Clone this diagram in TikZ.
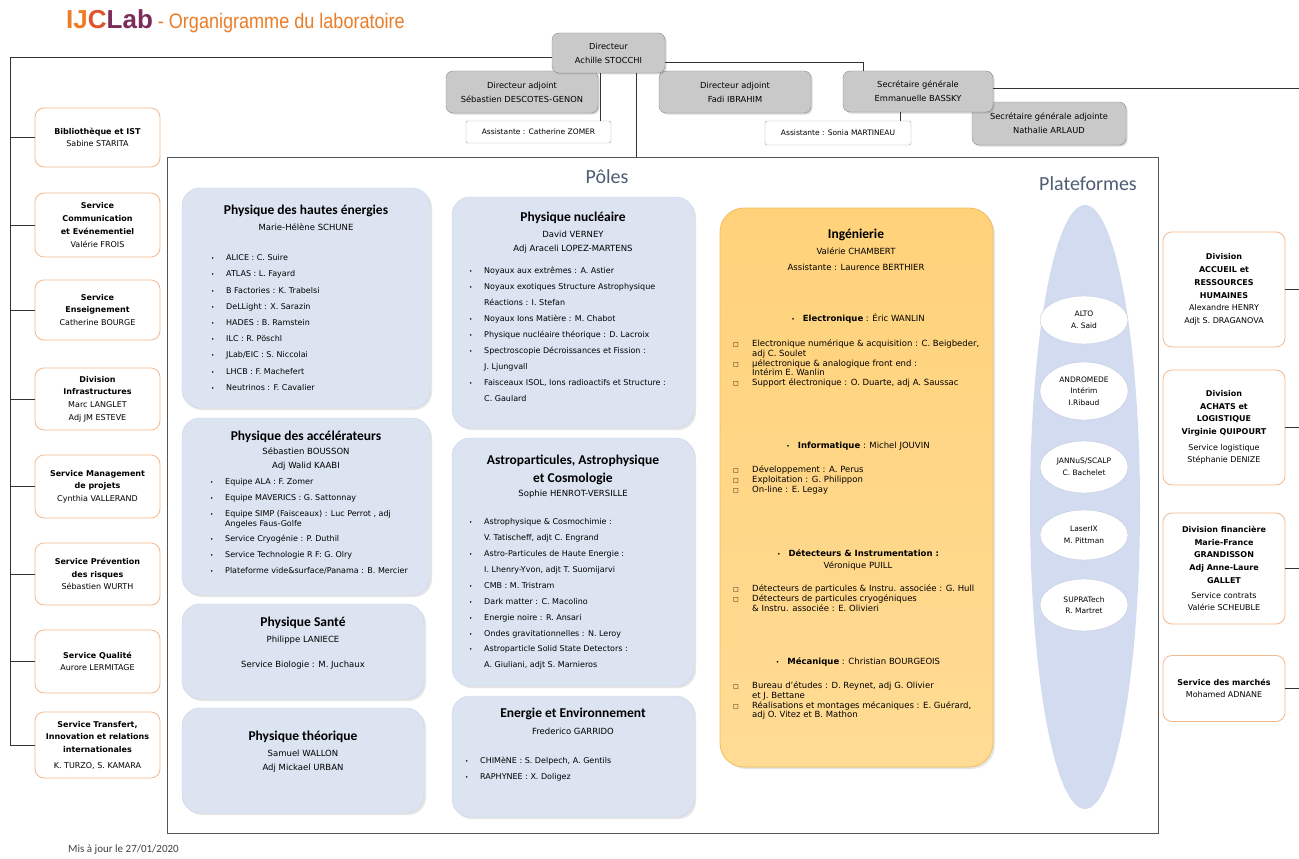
\documentclass[tikz,border=0pt]{standalone}
\usepackage{fontspec}
\setmainfont{DejaVu Sans}
\newfontfamily\calib{Carlito}
\newfontfamily\arial{Liberation Sans}
\usepackage{graphicx}
\usetikzlibrary{shapes.geometric,shadows}

\definecolor{greybox}{HTML}{C9C9C9}
\definecolor{greyedge}{HTML}{8A8A8A}
\definecolor{servedge}{HTML}{F4B98A}
\definecolor{poleblue}{HTML}{DCE4F2}
\definecolor{poleedge}{HTML}{CBD5E8}
\definecolor{platblue}{HTML}{D2DBEF}
\definecolor{platedge}{HTML}{BFC9DE}
\definecolor{ingtop}{HTML}{FFD27A}
\definecolor{ingbot}{HTML}{FFDB94}
\definecolor{ingedge}{HTML}{F1BE5C}
\definecolor{titleblue}{HTML}{4D5D73}
\definecolor{ijcorange}{HTML}{EC7D26}
\definecolor{ijcred}{HTML}{E0532C}
\definecolor{ijcpurple}{HTML}{7C2C58}
\definecolor{framec}{HTML}{555555}

\newcommand{\bl}{\makebox[15pt][l]{\scalebox{.7}{\textbullet}}}
\newcommand{\cont}{\hspace*{15pt}}
\newcommand{\sqb}{\makebox[19pt][l]{\fontsize{6}{6}\selectfont □}}
\newcommand{\scont}{\hspace*{19pt}}

\begin{document}
\begin{tikzpicture}[x=1pt,y=-1pt,
  conn/.style={draw=black!80,line width=.6pt},
  chef/.style={draw=greyedge,fill=greybox,rounded corners=7pt,align=center,font=\fontsize{8.3}{14}\selectfont,drop shadow={shadow xshift=1.5pt,shadow yshift=-1.5pt,opacity=.3}},
  assist/.style={draw=greyedge!80,fill=white,rounded corners=2pt,minimum height=22pt,font=\fontsize{7.5}{9}\selectfont},
  serv/.style={draw=servedge,line width=.8pt,fill=white,rounded corners=9pt,align=center,minimum width=125pt,font=\fontsize{8}{12.7}\selectfont},
  pole/.style={draw=poleedge,fill=poleblue,rounded corners=18pt,drop shadow={shadow xshift=2pt,shadow yshift=-2pt,opacity=.2}},
  ptitle/.style={inner sep=0pt,align=center,font=\calib\bfseries\fontsize{13.5}{18}\selectfont},
  pname/.style={inner sep=0pt,align=center,font=\fontsize{8.5}{14}\selectfont},
  lst/.style={anchor=north west,inner sep=0pt,align=left,font=\fontsize{8}{16.2}\selectfont},
  ilst/.style={anchor=north west,inner sep=0pt,align=left,font=\fontsize{8.5}{9.8}\selectfont},
  ihead/.style={inner sep=0pt,align=center,font=\fontsize{8.5}{12}\selectfont},
  plat/.style={ellipse,draw=platedge,fill=white,minimum width=88pt,inner sep=1pt,align=center,font=\fontsize{7.5}{11.5}\selectfont},
  big/.style={inner sep=0pt,font=\calib\fontsize{20}{20}\selectfont,text=titleblue}]

\path[fill=white] (0,0) rectangle (1299,859);
\useasboundingbox (0,0) rectangle (1299,859);

\node[anchor=base west,inner sep=0pt] (titre) at (66,29) {{\arial\bfseries\fontsize{26}{26}\selectfont\textcolor{ijcorange}{IJ}\textcolor{ijcred}{C}\textcolor{ijcpurple}{Lab}}\hspace{5pt}\textcolor{ijcorange}{\scalebox{0.86}[1]{\arial\fontsize{21}{21}\selectfont - Organigramme du laboratoire}}};

\node[draw=framec,line width=.9pt,minimum width=991pt,minimum height=676pt] (poles) at (662.5,495) {};
\node[big] (polest) at (607,177) {Pôles};
\node[big] (platt) at (1088,184) {Plateformes};

\node[chef,minimum width=154pt,minimum height=43pt] (sga) at (1049,123.5) {Secrétaire générale adjointe\\Nathalie ARLAUD};
\node[chef,minimum width=152pt,minimum height=42pt] (adj1) at (522,92) {Directeur adjoint\\Sébastien DESCOTES-GENON};
\node[chef,minimum width=152pt,minimum height=42pt] (adj2) at (735,92) {Directeur adjoint\\Fadi IBRAHIM};
\node[chef,minimum width=150pt,minimum height=41pt] (sg) at (918,91.5) {Secrétaire générale\\Emmanuelle BASSKY};
\node[chef,minimum width=113pt,minimum height=40pt] (dir) at (608.5,53) {Directeur\\Achille STOCCHI};
\node[assist,minimum width=145pt] (as1) at (538.5,132) {Assistante : Catherine ZOMER};
\node[assist,minimum width=146pt,minimum height=24pt] (as2) at (838,133) {Assistante : Sonia MARTINEAU};

\node[serv,minimum height=59pt] (bib) at (97.5,137.5) {\textbf{Bibliothèque et IST}\\Sabine STARITA};
\node[serv,minimum height=64pt] (com) at (97.5,225) {\textbf{Service}\\\textbf{Communication}\\\textbf{et Evénementiel}\\Valérie FROIS};
\node[serv,minimum height=60pt] (ens) at (97.5,310) {\textbf{Service}\\\textbf{Enseignement}\\Catherine BOURGE};
\node[serv,minimum height=62pt] (infra) at (97.5,399) {\textbf{Division}\\\textbf{Infrastructures}\\Marc LANGLET\\Adj JM ESTEVE};
\node[serv,minimum height=63pt] (mgt) at (97.5,486.5) {\textbf{Service Management}\\\textbf{de projets}\\Cynthia VALLERAND};
\node[serv,minimum height=62pt] (prev) at (97.5,574) {\textbf{Service Prévention}\\\textbf{des risques}\\Sébastien WURTH};
\node[serv,minimum height=63pt] (qual) at (97.5,661.5) {\textbf{Service Qualité}\\Aurore LERMITAGE};
\node[serv,minimum height=66pt] (trans) at (97.5,745) {\textbf{Service Transfert,}\\\textbf{Innovation et relations}\\\textbf{internationales}\\[3pt]K. TURZO, S. KAMARA};

\node[serv,minimum width=122pt,minimum height=115pt] (rh) at (1224,289.5) {\textbf{Division}\\\textbf{ACCUEIL et}\\\textbf{RESSOURCES}\\\textbf{HUMAINES}\\Alexandre HENRY\\Adjt S. DRAGANOVA};
\node[serv,minimum width=122pt,minimum height=115pt] (achat) at (1224,427.5) {\textbf{Division}\\\textbf{ACHATS et}\\\textbf{LOGISTIQUE}\\\textbf{Virginie QUIPOURT}\\[3pt]Service logistique\\Stéphanie DENIZE};
\node[serv,minimum width=122pt,minimum height=111pt] (fin) at (1224,568.5) {\textbf{Division financière}\\\textbf{Marie-France}\\\textbf{GRANDISSON}\\\textbf{Adj Anne-Laure}\\\textbf{GALLET}\\[2pt]Service contrats\\Valérie SCHEUBLE};
\node[serv,minimum width=122pt,minimum height=66pt] (marche) at (1224,688.5) {\textbf{Service des marchés}\\Mohamed ADNANE};

\coordinate (lbot) at (10,745);
\coordinate (redge) at (1299,0);
\draw[conn] ([yshift=-4pt]dir.west) -| (lbot);
\foreach \s in {bib,com,ens,infra,mgt,prev,qual,trans}
  \draw[conn] (\s.west) -- (\s.west -| lbot);
\draw[conn] ([yshift=-9pt]dir.east) -| ([xshift=-55pt]sg.north);
\draw[conn] ([yshift=3pt]sg.east) -- ([yshift=3pt]sg.east -| redge);
\foreach \s in {rh,achat,fin,marche}
  \draw[conn] (\s.east) -- (\s.east -| redge);
\draw[conn] ([xshift=28pt]dir.south) -- ([xshift=28pt]dir.south |- poles.north);
\draw[conn] ([xshift=-8pt]dir.south) -- ([xshift=-8pt]dir.south |- as1.north);
\draw[conn] ([xshift=-18pt]sg.south) -- ([xshift=-18pt]sg.south |- as2.north);

\node[pole,minimum width=248pt,minimum height=220pt] (phe) at (306,298) {};
\node[ptitle] (phet) at (306,211) {Physique des hautes énergies};
\node[pname] (phen) at (306,227) {Marie-Hélène SCHUNE};
\node[lst] (phel) at (211,254.5) {\bl ALICE : C. Suire\\\bl ATLAS : L. Fayard\\\bl B Factories : K. Trabelsi\\\bl DeLLight : X. Sarazin\\\bl HADES : B. Ramstein\\\bl ILC : R. Pöschl\\\bl JLab/EIC : S. Niccolai\\\bl LHCB : F. Machefert\\\bl Neutrinos : F. Cavalier};

\node[pole,minimum width=248pt,minimum height=177pt] (pacc) at (306,506.5) {};
\node[ptitle] (pacct) at (306,437) {Physique des accélérateurs};
\node[pname] (paccn) at (306,459) {Sébastien BOUSSON\\Adj Walid KAABI};
\node[lst,font=\fontsize{8}{15.8}\selectfont] (paccl) at (210,478.5) {\bl Equipe ALA : F. Zomer\\\bl Equipe MAVERICS : G. Sattonnay\\\bl Equipe SIMP (Faisceaux) : Luc Perrot , adj\\[-6pt]\cont Angeles Faus-Golfe\\\bl Service Cryogénie : P. Duthil\\\bl Service Technologie R F: G. Olry\\\bl Plateforme vide\&surface/Panama : B. Mercier};

\node[pole,minimum width=242pt,minimum height=95pt] (psan) at (303,651.5) {};
\node[ptitle] (psant) at (303,623) {Physique Santé};
\node[pname] (psann) at (303,640) {Philippe LANIECE};
\node[pname] (psanb) at (303,665) {Service Biologie : M. Juchaux};

\node[pole,minimum width=242pt,minimum height=105pt] (pth) at (303,760.5) {};
\node[ptitle] (ptht) at (303,737) {Physique théorique};
\node[pname] (pthn) at (303,761) {Samuel WALLON\\Adj Mickael URBAN};

\node[pole,minimum width=242pt,minimum height=231pt] (pnuc) at (573,312.5) {};
\node[ptitle] (pnuct) at (573,218) {Physique nucléaire};
\node[pname] (pnucn) at (573,242) {David VERNEY\\Adj Araceli LOPEZ-MARTENS};
\node[lst,font=\fontsize{8}{16}\selectfont] (pnucl) at (469,266.5) {\bl Noyaux aux extrêmes : A. Astier\\\bl Noyaux exotiques Structure Astrophysique\\\cont Réactions : I. Stefan\\\bl Noyaux Ions Matière : M. Chabot\\\bl Physique nucléaire théorique : D. Lacroix\\\bl Spectroscopie Décroissances et Fission :\\\cont J. Ljungvall\\\bl Faisceaux ISOL, Ions radioactifs et Structure :\\\cont C. Gaulard};

\node[pole,minimum width=242pt,minimum height=248pt] (pastro) at (573,562) {};
\node[ptitle] (pastrot) at (573,470) {Astroparticules, Astrophysique\\et Cosmologie};
\node[pname] (pastron) at (573,494) {Sophie HENROT-VERSILLE};
\node[lst,font=\fontsize{8}{15.9}\selectfont] (pastrol) at (469,518.5) {\bl Astrophysique \& Cosmochimie :\\\cont V. Tatischeff, adjt C. Engrand\\\bl Astro-Particules de Haute Energie :\\\cont I. Lhenry-Yvon, adjt T. Suomijarvi\\\bl CMB : M. Tristram\\\bl Dark matter : C. Macolino\\\bl Energie noire : R. Ansari\\\bl Ondes gravitationnelles : N. Leroy\\\bl Astroparticle Solid State Detectors :\\\cont A. Giuliani, adjt S. Marnieros};

\node[pole,minimum width=242pt,minimum height=121pt] (pen) at (573,756.5) {};
\node[ptitle] (pent) at (573,714) {Energie et Environnement};
\node[pname] (penn) at (573,731) {Frederico GARRIDO};
\node[lst] (penl) at (465,756.5) {\bl CHIMèNE : S. Delpech, A. Gentils\\\bl RAPHYNEE : X. Doligez};

\node[draw=ingedge,line width=.8pt,rounded corners=24pt,top color=ingtop,bottom color=ingbot,minimum width=273pt,minimum height=559pt,drop shadow={shadow xshift=2pt,shadow yshift=-2pt,opacity=.2}] (ing) at (856.5,487.5) {};
\node[ptitle] (ingt) at (856,235) {Ingénierie};
\node[pname,font=\fontsize{8.5}{16}\selectfont] (ingn) at (856,259) {Valérie CHAMBERT\\Assistante : Laurence BERTHIER};
\node[ihead] (elec) at (858,318) {\scalebox{.7}{\textbullet}\hspace{8pt}\textbf{Electronique} : Éric WANLIN};
\node[ilst] (elecl) at (733,339.5) {\sqb Electronique numérique \& acquisition : C. Beigbeder,\\\scont adj C. Soulet\\\sqb µélectronique \& analogique front end :\\\scont Intérim E. Wanlin\\\sqb Support électronique : O. Duarte, adj A. Saussac};
\node[ihead] (info) at (858,446) {\scalebox{.7}{\textbullet}\hspace{8pt}\textbf{Informatique} : Michel JOUVIN};
\node[ilst] (infol) at (733,465.5) {\sqb Développement : A. Perus\\\sqb Exploitation : G. Philippon\\\sqb On-line : E. Legay};
\node[ihead] (detec) at (858,560) {\scalebox{.7}{\textbullet}\hspace{8pt}\textbf{Détecteurs \& Instrumentation :}\\Véronique PUILL};
\node[ilst] (detecl) at (733,584.5) {\sqb Détecteurs de particules \& Instru. associée : G. Hull\\\sqb Détecteurs de particules cryogéniques\\\scont \& Instru. associée : E. Olivieri};
\node[ihead] (meca) at (858,662) {\scalebox{.7}{\textbullet}\hspace{8pt}\textbf{Mécanique} : Christian BOURGEOIS};
\node[ilst] (mecal) at (733,681.5) {\sqb Bureau d'études : D. Reynet, adj G. Olivier\\\scont et J. Bettane\\\sqb Réalisations et montages mécaniques : E. Guérard,\\\scont adj O. Vitez et B. Mathon};

\node[ellipse,fill=platblue,minimum width=110pt,minimum height=604pt] (platf) at (1085,507) {};
\node[plat,minimum height=48pt] (alto) at (1084,320) {ALTO\\A. Said};
\node[plat,minimum height=58pt] (andro) at (1084,391) {ANDROMEDE\\Intérim\\I.Ribaud};
\node[plat,minimum height=52pt] (jannus) at (1084,467) {JANNuS/SCALP\\C. Bachelet};
\node[plat,minimum height=50pt] (laser) at (1084,535) {LaserIX\\M. Pittman};
\node[plat,minimum height=52pt] (supra) at (1084,605) {SUPRATech\\R. Martret};

\node[anchor=west,inner sep=0pt,font=\calib\fontsize{11}{11}\selectfont,text=black!75] (maj) at (68,850) {Mis à jour le 27/01/2020};
\end{tikzpicture}
\end{document}
